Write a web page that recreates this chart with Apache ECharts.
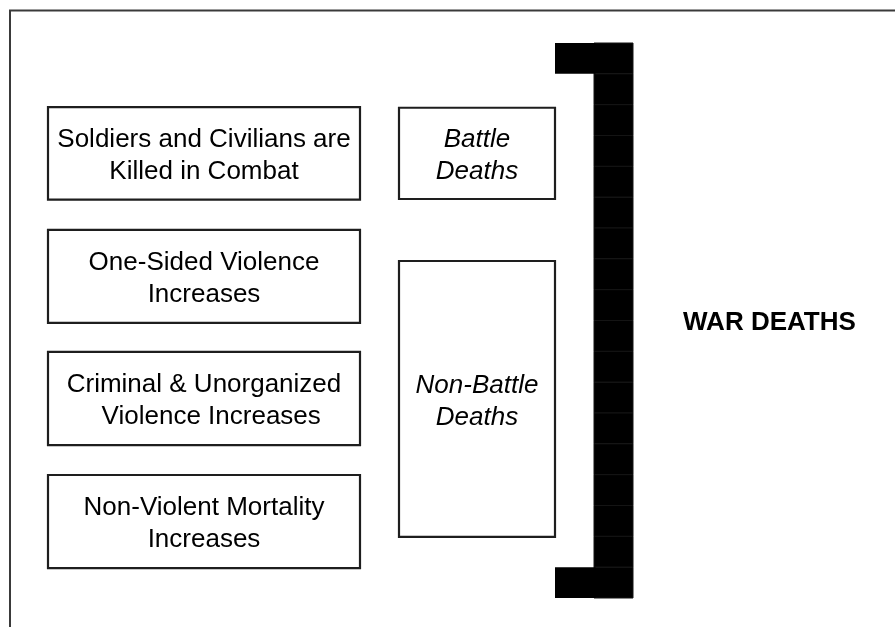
<!DOCTYPE html>
<html>
<head>
<meta charset="utf-8">
<script src="https://cdn.jsdelivr.net/npm/echarts@6/dist/echarts.min.js"></script>
<style>
html,body{margin:0;padding:0;background:#fff;}
#main{width:895px;height:627px;}
</style>
</head>
<body>
<div id="main"></div>
<script>
// ---- data ----
const causeLabels = [
  'Soldiers and Civilians are\nKilled in Combat',
  'One-Sided Violence\nIncreases',
  'Criminal & Unorganized\n  Violence Increases',
  'Non-Violent Mortality\nIncreases'
];
const causeTop = [2.08, 6.06, 10.02, 14.01];
const causeBottom = [5.08, 9.08, 13.04, 17.03];

const outcomeLabels = ['Battle\nDeaths', 'Non-Battle\nDeaths'];
const outcomeTop = [2.1, 7.07];
const outcomeBottom = [5.06, 16.02];

const bracketRows = [0, 1, 2, 3, 4, 5, 6, 7, 8, 9, 10, 11, 12, 13, 14, 15, 16, 17];
const bracketArmRows = [0, 17];
const totalLabel = 'WAR DEATHS';

// ---- layout (columns in grid units) ----
const causeCol = [0, 8];
const outcomeCol = [9, 13];
const armCol = [13, 14];
const spineCol = [14, 15];
const FONT = '"Liberation Sans", Arial, Helvetica, sans-serif';

function boxRenderer(col, labels, fontStyle) {
  return function (params, api) {
    const p0 = api.coord([col[0], api.value(0)]);
    const p1 = api.coord([col[1], api.value(1)]);
    return {
      type: 'group',
      children: [
        {
          type: 'rect',
          shape: { x: p0[0], y: p0[1], width: p1[0] - p0[0], height: p1[1] - p0[1] },
          style: { fill: '#fff', stroke: '#1e1e1e', lineWidth: 2.2 }
        },
        {
          type: 'text',
          x: (p0[0] + p1[0]) / 2,
          y: (p0[1] + p1[1]) / 2 + 2.5,
          style: {
            text: labels[params.dataIndex],
            align: 'center', textAlign: 'center',
            verticalAlign: 'middle', textVerticalAlign: 'middle',
            font: fontStyle + ' 26px ' + FONT,
            lineHeight: 32,
            fill: '#000'
          }
        }
      ]
    };
  };
}

function cellRenderer(col, stroke, lw, overlap) {
  return function (params, api) {
    const r = api.value(0);
    const p0 = api.coord([col[0], r]);
    const p1 = api.coord([col[1], r + 1]);
    return {
      type: 'rect',
      shape: { x: p0[0], y: p0[1], width: p1[0] - p0[0] + overlap, height: p1[1] - p0[1] },
      style: { fill: '#000', stroke: stroke, lineWidth: lw }
    };
  };
}

const chart = echarts.init(document.getElementById('main'));
chart.setOption({
  animation: false,
  backgroundColor: '#fff',
  grid: { left: 48, top: 43, width: 585, height: 555 },
  xAxis: { type: 'value', min: 0, max: 15, show: false },
  yAxis: { type: 'value', min: 0, max: 18, inverse: true, show: false },
  graphic: [{
    type: 'rect', silent: true, z: -1,
    shape: { x: 10, y: 10.5, width: 1000, height: 1000 },
    style: { fill: 'none', stroke: '#3a3a3a', lineWidth: 2 }
  }],
  series: [
    {
      type: 'custom', name: 'causes', clip: false,
      renderItem: boxRenderer(causeCol, causeLabels, 'normal'),
      data: causeTop.map((t, i) => [t, causeBottom[i]])
    },
    {
      type: 'custom', name: 'outcomes', clip: false,
      renderItem: boxRenderer(outcomeCol, outcomeLabels, 'italic'),
      data: outcomeTop.map((t, i) => [t, outcomeBottom[i]])
    },
    {
      type: 'custom', name: 'spine', clip: false,
      renderItem: cellRenderer(spineCol, '#141414', 1, 0),
      data: bracketRows.map(r => [r])
    },
    {
      type: 'custom', name: 'arms', clip: false,
      renderItem: cellRenderer(armCol, null, 0, 1.5),
      data: bracketArmRows.map(r => [r])
    },
    {
      type: 'custom', name: 'total', clip: false,
      renderItem: function (params, api) {
        const mid = (bracketRows[0] + bracketRows[bracketRows.length - 1] + 1) / 2;
        const p = api.coord([spineCol[1], mid]);
        return {
          type: 'text',
          x: p[0] + 50,
          y: p[1] + 2,
          style: {
            text: totalLabel,
            align: 'left', textAlign: 'left',
            verticalAlign: 'middle', textVerticalAlign: 'middle',
            font: 'bold 26px ' + FONT,
            fill: '#000'
          }
        };
      },
      data: [[0]]
    }
  ]
});
</script>
</body>
</html>
